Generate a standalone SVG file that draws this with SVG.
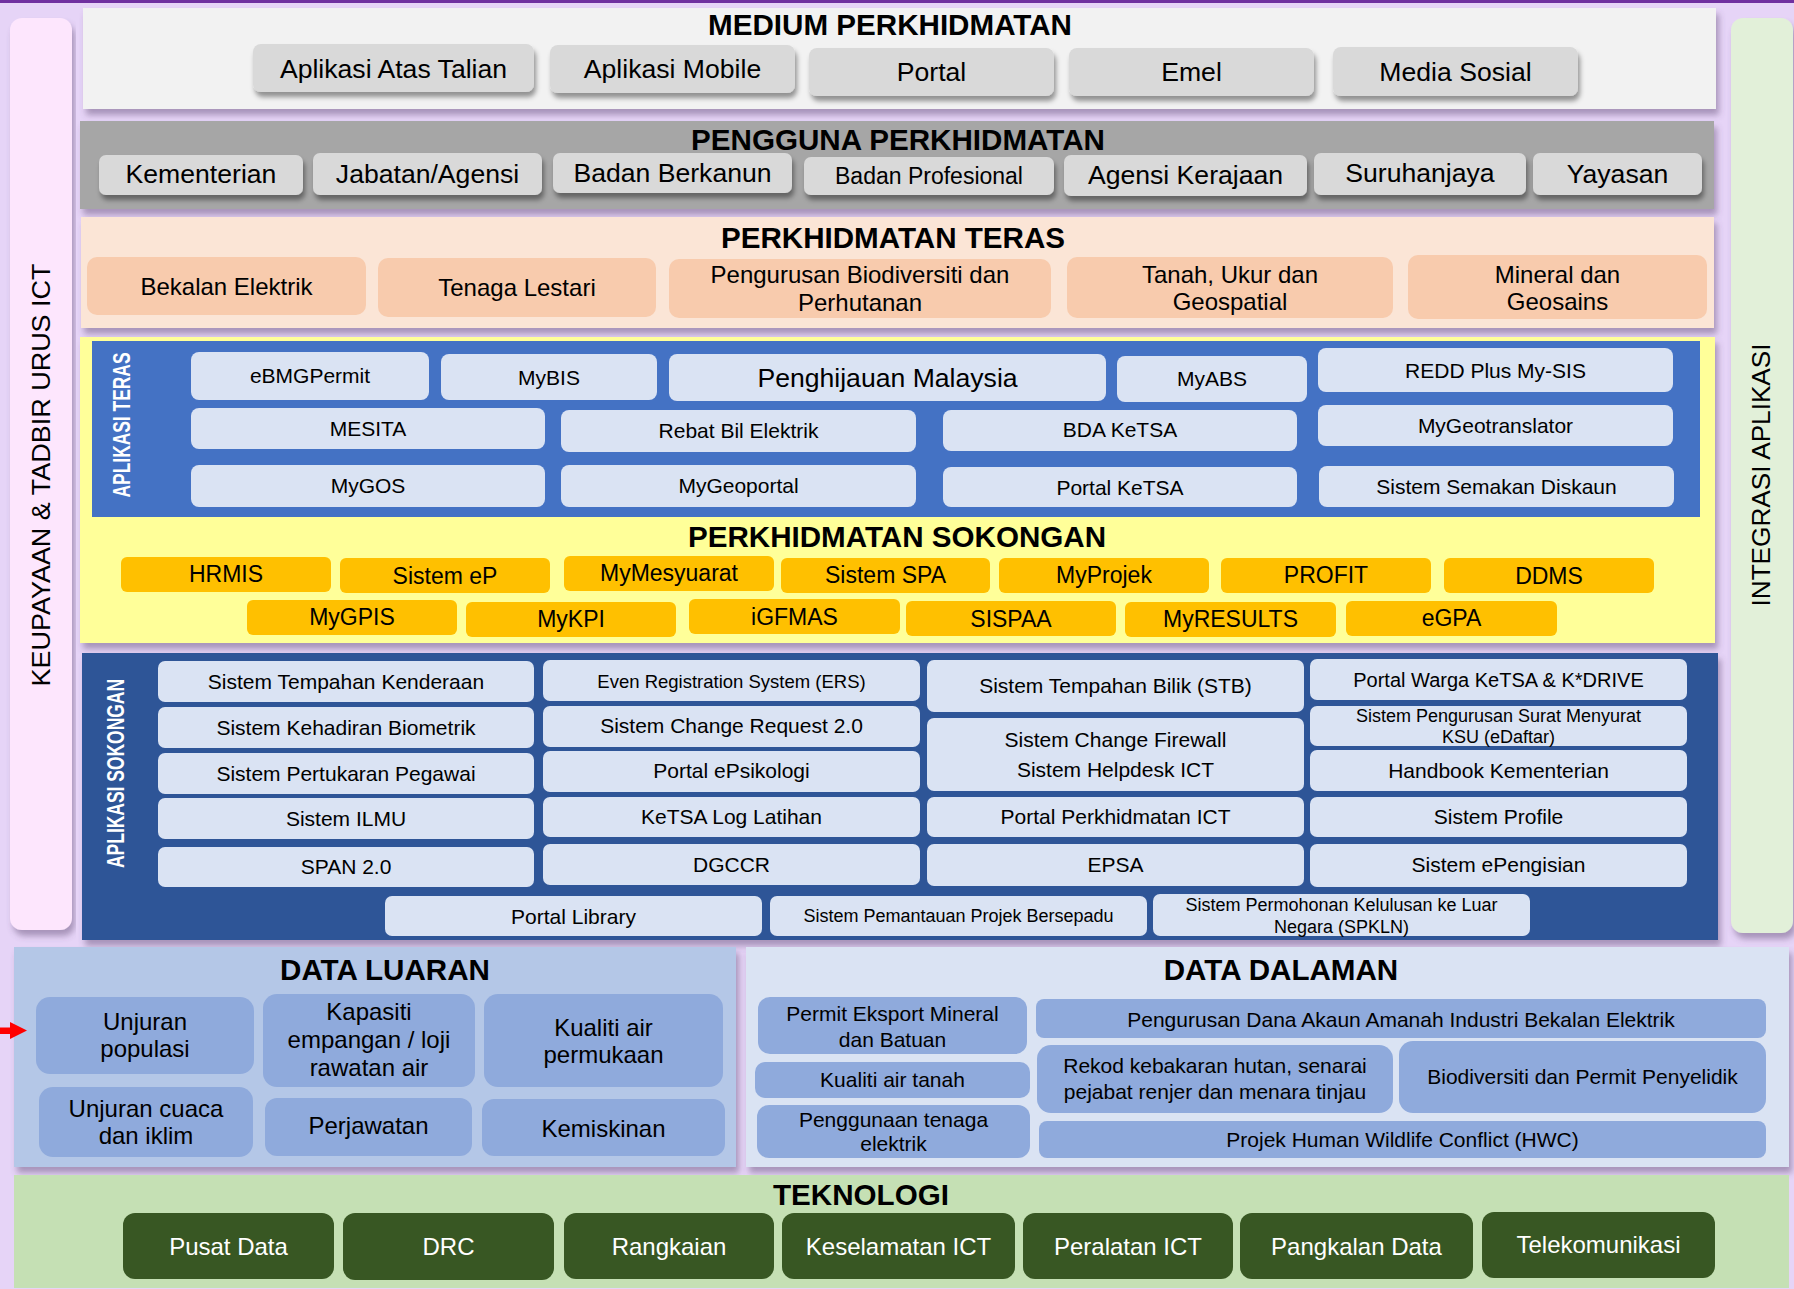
<svg xmlns="http://www.w3.org/2000/svg" width="1794" height="1289" viewBox="0 0 1794 1289">
<defs>
<style>
text{font-family:"Liberation Sans",Arial,Helvetica,sans-serif;text-anchor:middle;fill:#000}
.h{font-weight:bold;font-size:29.6px}
.f26{font-size:26.6px}.f24{font-size:24px}.f23{font-size:23px}.f21{font-size:21px}.f20{font-size:20px}.f18{font-size:18px}.f185{font-size:18.5px}
.w{fill:#fff}
.vl{font-weight:bold;font-size:23px;fill:#fff}
.gb{fill:#D9D9D9}
.pb{fill:#F8CBAD}
.lb{fill:#DAE3F3}
.ob{fill:#FFC000}
.db{fill:#8FAADC}
.tb{fill:#385723}
</style>
<filter id="psh" x="-5%" y="-20%" width="110%" height="150%">
<feDropShadow dx="3" dy="6" stdDeviation="3" flood-color="#5a4470" flood-opacity="0.45"/>
</filter>
<filter id="bsh" x="-10%" y="-30%" width="120%" height="180%">
<feDropShadow dx="2" dy="5" stdDeviation="2.5" flood-color="#000" flood-opacity="0.4"/>
</filter>
</defs>

<rect x="0" y="0" width="1794" height="1289" fill="#E6D4F7"/>
<rect x="0" y="0" width="1794" height="3" fill="#7030A0"/>

<g id="keupayaan">
<rect x="10" y="18" width="62" height="912" rx="12" fill="#FDE6FD" filter="url(#psh)"/>
<text class="f26" transform="translate(50,475) rotate(-90)" textLength="423" lengthAdjust="spacingAndGlyphs">KEUPAYAAN &amp; TADBIR URUS ICT</text>
</g>

<g id="integrasi">
<rect x="1731" y="18" width="62" height="915" rx="12" fill="#E2F0D9" filter="url(#psh)"/>
<text class="f26" transform="translate(1770,475) rotate(-90)" textLength="263" lengthAdjust="spacingAndGlyphs">INTEGRASI APLIKASI</text>
</g>

<g id="medium">
<rect x="83" y="8" width="1633" height="101" fill="#F2F2F2" filter="url(#psh)"/>
<text class="h" x="890" y="35">MEDIUM PERKHIDMATAN</text>
<g id="m1"><rect class="gb" x="253" y="44" width="281" height="48" rx="8" filter="url(#bsh)"/><text class="f26" x="393.5" y="78">Aplikasi Atas Talian</text></g>
<g id="m2"><rect class="gb" x="550" y="45" width="245" height="48" rx="8" filter="url(#bsh)"/><text class="f26" x="672.5" y="78">Aplikasi Mobile</text></g>
<g id="m3"><rect class="gb" x="809" y="48" width="245" height="48" rx="8" filter="url(#bsh)"/><text class="f26" x="931.5" y="81">Portal</text></g>
<g id="m4"><rect class="gb" x="1069" y="48" width="245" height="48" rx="8" filter="url(#bsh)"/><text class="f26" x="1191.5" y="81">Emel</text></g>
<g id="m5"><rect class="gb" x="1333" y="47" width="245" height="49" rx="8" filter="url(#bsh)"/><text class="f26" x="1455.5" y="81">Media Sosial</text></g>
</g>

<g id="pengguna">
<rect x="80" y="121" width="1634" height="88" fill="#A6A6A6" filter="url(#psh)"/>
<text class="h" x="898" y="150">PENGGUNA PERKHIDMATAN</text>
<g id="p1"><rect class="gb" x="99" y="155" width="204" height="40" rx="7" filter="url(#bsh)"/><text class="f26" x="201" y="183">Kementerian</text></g>
<g id="p2"><rect class="gb" x="313" y="153" width="229" height="42" rx="7" filter="url(#bsh)"/><text class="f26" x="427.5" y="183">Jabatan/Agensi</text></g>
<g id="p3"><rect class="gb" x="553" y="153" width="239" height="40" rx="7" filter="url(#bsh)"/><text class="f26" x="672.5" y="182">Badan Berkanun</text></g>
<g id="p4"><rect class="gb" x="804" y="157" width="250" height="38" rx="7" filter="url(#bsh)"/><text class="f23" x="929" y="184">Badan Profesional</text></g>
<g id="p5"><rect class="gb" x="1064" y="155" width="243" height="41" rx="7" filter="url(#bsh)"/><text class="f26" x="1185.5" y="184">Agensi Kerajaan</text></g>
<g id="p6"><rect class="gb" x="1314" y="153" width="212" height="42" rx="7" filter="url(#bsh)"/><text class="f26" x="1420" y="182">Suruhanjaya</text></g>
<g id="p7"><rect class="gb" x="1533" y="153" width="169" height="42" rx="7" filter="url(#bsh)"/><text class="f26" x="1617.5" y="183">Yayasan</text></g>
</g>

<g id="teras">
<rect x="81" y="217" width="1633" height="111" fill="#FBE5D6" filter="url(#psh)"/>
<text class="h" x="893" y="248">PERKHIDMATAN TERAS</text>
<g id="t1"><rect class="pb" x="87" y="257" width="279" height="58" rx="10"/><text class="f24" x="226.5" y="295">Bekalan Elektrik</text></g>
<g id="t2"><rect class="pb" x="378" y="258" width="278" height="59" rx="10"/><text class="f24" x="517" y="296">Tenaga Lestari</text></g>
<g id="t3"><rect class="pb" x="669" y="259" width="382" height="59" rx="10"/><text class="f24" x="860" y="283">Pengurusan Biodiversiti dan</text><text class="f24" x="860" y="311">Perhutanan</text></g>
<g id="t4"><rect class="pb" x="1067" y="257" width="326" height="61" rx="10"/><text class="f24" x="1230" y="283">Tanah, Ukur dan</text><text class="f24" x="1230" y="310">Geospatial</text></g>
<g id="t5"><rect class="pb" x="1408" y="255" width="299" height="64" rx="10"/><text class="f24" x="1557.5" y="283">Mineral dan</text><text class="f24" x="1557.5" y="310">Geosains</text></g>
</g>

<g id="sokongan">
<rect x="80" y="337" width="1635" height="306" fill="#FFFF99" filter="url(#psh)"/>
<g id="aplikasi-teras">
<rect x="92" y="341" width="1608" height="176" fill="#4472C4"/>
<text class="vl" transform="translate(130,425) rotate(-90)" textLength="145" lengthAdjust="spacingAndGlyphs">APLIKASI TERAS</text>
<g id="a1"><rect class="lb" x="191" y="352" width="238" height="48" rx="8"/><text class="f21" x="310" y="383">eBMGPermit</text></g>
<g id="a2"><rect class="lb" x="441" y="354" width="216" height="46" rx="8"/><text class="f21" x="549" y="385">MyBIS</text></g>
<g id="a3"><rect class="lb" x="669" y="354" width="437" height="47" rx="8"/><text class="f26" x="887.5" y="387">Penghijauan Malaysia</text></g>
<g id="a4"><rect class="lb" x="1117" y="356" width="190" height="46" rx="8"/><text class="f21" x="1212" y="386">MyABS</text></g>
<g id="a5"><rect class="lb" x="1318" y="348" width="355" height="44" rx="8"/><text class="f21" x="1495.5" y="378">REDD Plus My-SIS</text></g>
<g id="a6"><rect class="lb" x="191" y="408" width="354" height="41" rx="8"/><text class="f21" x="368" y="436">MESITA</text></g>
<g id="a7"><rect class="lb" x="561" y="410" width="355" height="42" rx="8"/><text class="f21" x="738.5" y="438">Rebat Bil Elektrik</text></g>
<g id="a8"><rect class="lb" x="943" y="410" width="354" height="41" rx="8"/><text class="f21" x="1120" y="437">BDA KeTSA</text></g>
<g id="a9"><rect class="lb" x="1318" y="405" width="355" height="41" rx="8"/><text class="f21" x="1495.5" y="433">MyGeotranslator</text></g>
<g id="a10"><rect class="lb" x="191" y="465" width="354" height="42" rx="8"/><text class="f21" x="368" y="493">MyGOS</text></g>
<g id="a11"><rect class="lb" x="561" y="465" width="355" height="42" rx="8"/><text class="f21" x="738.5" y="493">MyGeoportal</text></g>
<g id="a12"><rect class="lb" x="943" y="467" width="354" height="40" rx="8"/><text class="f21" x="1120" y="495">Portal KeTSA</text></g>
<g id="a13"><rect class="lb" x="1319" y="466" width="355" height="41" rx="8"/><text class="f21" x="1496.5" y="494">Sistem Semakan Diskaun</text></g>
</g>
<text class="h" x="897" y="547">PERKHIDMATAN SOKONGAN</text>
<g id="s1"><rect class="ob" x="121" y="557" width="210" height="35" rx="6"/><text class="f23" x="226" y="582">HRMIS</text></g>
<g id="s2"><rect class="ob" x="340" y="558" width="210" height="35" rx="6"/><text class="f23" x="445" y="584">Sistem eP</text></g>
<g id="s3"><rect class="ob" x="564" y="556" width="210" height="35" rx="6"/><text class="f23" x="669" y="581">MyMesyuarat</text></g>
<g id="s4"><rect class="ob" x="781" y="558" width="209" height="35" rx="6"/><text class="f23" x="885.5" y="583">Sistem SPA</text></g>
<g id="s5"><rect class="ob" x="999" y="558" width="210" height="35" rx="6"/><text class="f23" x="1104" y="583">MyProjek</text></g>
<g id="s6"><rect class="ob" x="1221" y="558" width="210" height="35" rx="6"/><text class="f23" x="1326" y="583">PROFIT</text></g>
<g id="s7"><rect class="ob" x="1444" y="558" width="210" height="35" rx="6"/><text class="f23" x="1549" y="584">DDMS</text></g>
<g id="s8"><rect class="ob" x="247" y="600" width="210" height="35" rx="6"/><text class="f23" x="352" y="625">MyGPIS</text></g>
<g id="s9"><rect class="ob" x="466" y="602" width="210" height="35" rx="6"/><text class="f23" x="571" y="627">MyKPI</text></g>
<g id="s10"><rect class="ob" x="689" y="599" width="211" height="35" rx="6"/><text class="f23" x="794.5" y="625">iGFMAS</text></g>
<g id="s11"><rect class="ob" x="906" y="601" width="210" height="35" rx="6"/><text class="f23" x="1011" y="627">SISPAA</text></g>
<g id="s12"><rect class="ob" x="1125" y="602" width="211" height="35" rx="6"/><text class="f23" x="1230.5" y="627">MyRESULTS</text></g>
<g id="s13"><rect class="ob" x="1346" y="601" width="211" height="35" rx="6"/><text class="f23" x="1451.5" y="626">eGPA</text></g>
</g>

<g id="aplikasi-sokongan">
<rect x="82" y="653" width="1636" height="287" fill="#2F5597" filter="url(#psh)"/>
<text class="vl" transform="translate(124,773.5) rotate(-90)" textLength="189" lengthAdjust="spacingAndGlyphs">APLIKASI SOKONGAN</text>
<g id="b1"><rect class="lb" x="158" y="661" width="376" height="41" rx="7"/><text class="f21" x="346" y="689">Sistem Tempahan Kenderaan</text></g>
<g id="b2"><rect class="lb" x="158" y="707" width="376" height="41" rx="7"/><text class="f21" x="346" y="735">Sistem Kehadiran Biometrik</text></g>
<g id="b3"><rect class="lb" x="158" y="753" width="376" height="41" rx="7"/><text class="f21" x="346" y="781">Sistem Pertukaran Pegawai</text></g>
<g id="b4"><rect class="lb" x="158" y="798" width="376" height="41" rx="7"/><text class="f21" x="346" y="826">Sistem ILMU</text></g>
<g id="b5"><rect class="lb" x="158" y="847" width="376" height="40" rx="7"/><text class="f21" x="346" y="874">SPAN 2.0</text></g>
<g id="b6"><rect class="lb" x="543" y="660" width="377" height="41" rx="7"/><text class="f185" x="731.5" y="688">Even Registration System (ERS)</text></g>
<g id="b7"><rect class="lb" x="543" y="706" width="377" height="41" rx="7"/><text class="f21" x="731.5" y="733">Sistem Change Request 2.0</text></g>
<g id="b8"><rect class="lb" x="543" y="751" width="377" height="41" rx="7"/><text class="f21" x="731.5" y="778">Portal ePsikologi</text></g>
<g id="b9"><rect class="lb" x="543" y="797" width="377" height="40" rx="7"/><text class="f21" x="731.5" y="824">KeTSA Log Latihan</text></g>
<g id="b10"><rect class="lb" x="543" y="844" width="377" height="41" rx="7"/><text class="f21" x="731.5" y="872">DGCCR</text></g>
<g id="b11"><rect class="lb" x="927" y="660" width="377" height="52" rx="7"/><text class="f21" x="1115.5" y="693">Sistem Tempahan Bilik (STB)</text></g>
<g id="b12"><rect class="lb" x="927" y="718" width="377" height="73" rx="7"/><text class="f21" x="1115.5" y="747">Sistem Change Firewall</text><text class="f21" x="1115.5" y="777">Sistem Helpdesk ICT</text></g>
<g id="b13"><rect class="lb" x="927" y="797" width="377" height="40" rx="7"/><text class="f21" x="1115.5" y="824">Portal Perkhidmatan ICT</text></g>
<g id="b14"><rect class="lb" x="927" y="844" width="377" height="42" rx="7"/><text class="f21" x="1115.5" y="872">EPSA</text></g>
<g id="b15"><rect class="lb" x="1310" y="659" width="377" height="41" rx="7"/><text class="f20" x="1498.5" y="687">Portal Warga KeTSA &amp; K*DRIVE</text></g>
<g id="b16"><rect class="lb" x="1310" y="706" width="377" height="40" rx="7"/><text class="f18" x="1498.5" y="722">Sistem Pengurusan Surat Menyurat</text><text class="f18" x="1498.5" y="743">KSU (eDaftar)</text></g>
<g id="b17"><rect class="lb" x="1310" y="750" width="377" height="41" rx="7"/><text class="f21" x="1498.5" y="778">Handbook Kementerian</text></g>
<g id="b18"><rect class="lb" x="1310" y="797" width="377" height="40" rx="7"/><text class="f21" x="1498.5" y="824">Sistem Profile</text></g>
<g id="b19"><rect class="lb" x="1310" y="844" width="377" height="43" rx="7"/><text class="f21" x="1498.5" y="872">Sistem ePengisian</text></g>
<g id="b20"><rect class="lb" x="385" y="896" width="377" height="40" rx="7"/><text class="f21" x="573.5" y="924">Portal Library</text></g>
<g id="b21"><rect class="lb" x="770" y="896" width="377" height="40" rx="7"/><text class="f18" x="958.5" y="922">Sistem Pemantauan Projek Bersepadu</text></g>
<g id="b22"><rect class="lb" x="1153" y="894" width="377" height="42" rx="7"/><text class="f18" x="1341.5" y="911">Sistem Permohonan Kelulusan ke Luar</text><text class="f18" x="1341.5" y="933">Negara (SPKLN)</text></g>
</g>

<g id="data-luaran">
<rect x="14" y="947" width="722" height="220" fill="#B4C7E7" filter="url(#psh)"/>
<text class="h" x="385" y="980">DATA LUARAN</text>
<g id="l1"><rect class="db" x="36" y="997" width="218" height="77" rx="14"/><text class="f24" x="145" y="1030">Unjuran</text><text class="f24" x="145" y="1057">populasi</text></g>
<g id="l2"><rect class="db" x="263" y="994" width="212" height="93" rx="14"/><text class="f24" x="369" y="1020">Kapasiti</text><text class="f24" x="369" y="1048">empangan / loji</text><text class="f24" x="369" y="1076">rawatan air</text></g>
<g id="l3"><rect class="db" x="484" y="994" width="239" height="93" rx="14"/><text class="f24" x="603.5" y="1036">Kualiti air</text><text class="f24" x="603.5" y="1063">permukaan</text></g>
<g id="l4"><rect class="db" x="39" y="1087" width="214" height="70" rx="14"/><text class="f24" x="146" y="1117">Unjuran cuaca</text><text class="f24" x="146" y="1144">dan iklim</text></g>
<g id="l5"><rect class="db" x="265" y="1098" width="207" height="58" rx="12"/><text class="f24" x="368.5" y="1134">Perjawatan</text></g>
<g id="l6"><rect class="db" x="482" y="1099" width="243" height="57" rx="12"/><text class="f24" x="603.5" y="1137">Kemiskinan</text></g>
</g>

<g id="data-dalaman">
<rect x="746" y="947" width="1043" height="220" fill="#DAE3F3" filter="url(#psh)"/>
<text class="h" x="1281" y="980">DATA DALAMAN</text>
<g id="d1"><rect class="db" x="758" y="997" width="269" height="57" rx="12"/><text class="f21" x="892.5" y="1021">Permit Eksport Mineral</text><text class="f21" x="892.5" y="1047">dan Batuan</text></g>
<g id="d2"><rect class="db" x="755" y="1062" width="275" height="36" rx="10"/><text class="f21" x="892.5" y="1087">Kualiti air tanah</text></g>
<g id="d3"><rect class="db" x="757" y="1105" width="273" height="53" rx="12"/><text class="f21" x="893.5" y="1127">Penggunaan tenaga</text><text class="f21" x="893.5" y="1151">elektrik</text></g>
<g id="d4"><rect class="db" x="1036" y="999" width="730" height="39" rx="8"/><text class="f21" x="1401" y="1027">Pengurusan Dana Akaun Amanah Industri Bekalan Elektrik</text></g>
<g id="d5"><rect class="db" x="1037" y="1045" width="356" height="68" rx="14"/><text class="f21" x="1215" y="1073">Rekod kebakaran hutan, senarai</text><text class="f21" x="1215" y="1099">pejabat renjer dan menara tinjau</text></g>
<g id="d6"><rect class="db" x="1399" y="1041" width="367" height="72" rx="14"/><text class="f21" x="1582.5" y="1084">Biodiversiti dan Permit Penyelidik</text></g>
<g id="d7"><rect class="db" x="1039" y="1121" width="727" height="37" rx="8"/><text class="f21" x="1402.5" y="1147">Projek Human Wildlife Conflict (HWC)</text></g>
</g>

<g id="teknologi">
<rect x="14" y="1175" width="1775" height="113" fill="#C5E0B4"/>
<text class="h" x="861" y="1205">TEKNOLOGI</text>
<g id="k1"><rect class="tb" x="123" y="1213" width="211" height="66" rx="12"/><text class="f24 w" x="228.5" y="1255">Pusat Data</text></g>
<g id="k2"><rect class="tb" x="343" y="1213" width="211" height="67" rx="12"/><text class="f24 w" x="448.5" y="1255">DRC</text></g>
<g id="k3"><rect class="tb" x="564" y="1213" width="210" height="66" rx="12"/><text class="f24 w" x="669" y="1255">Rangkaian</text></g>
<g id="k4"><rect class="tb" x="782" y="1213" width="233" height="66" rx="12"/><text class="f24 w" x="898.5" y="1255">Keselamatan ICT</text></g>
<g id="k5"><rect class="tb" x="1023" y="1213" width="210" height="66" rx="12"/><text class="f24 w" x="1128" y="1255">Peralatan ICT</text></g>
<g id="k6"><rect class="tb" x="1240" y="1213" width="233" height="66" rx="12"/><text class="f24 w" x="1356.5" y="1255">Pangkalan Data</text></g>
<g id="k7"><rect class="tb" x="1482" y="1212" width="233" height="66" rx="12"/><text class="f24 w" x="1598.5" y="1253">Telekomunikasi</text></g>
</g>

<g id="connectors">
<polygon points="0,1027.5 10,1027.5 10,1022 27,1030.5 10,1039 10,1034 0,1034" fill="#FF0000"/>
</g>
</svg>
